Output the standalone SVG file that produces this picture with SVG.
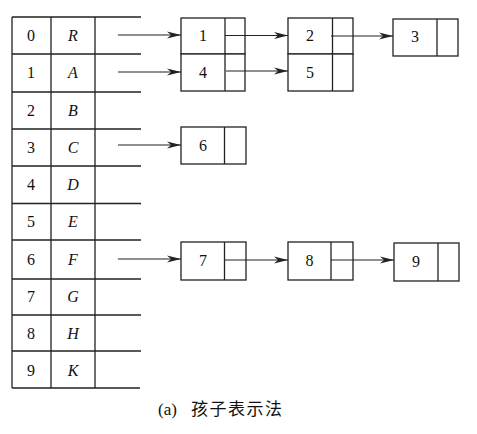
<svg xmlns="http://www.w3.org/2000/svg" width="477" height="434" viewBox="0 0 477 434">
<style>
.l{stroke:#222;stroke-width:1.3;fill:none}
.b{stroke:#222;stroke-width:1.3;fill:#fff}
.t{font-family:"Liberation Serif","Times New Roman",serif;font-size:16px;fill:#111;text-anchor:middle}
.i{font-style:italic}
.c{font-family:"Liberation Serif","Noto Sans CJK SC",serif;font-size:17px;fill:#111}
.a{stroke:#222;stroke-width:1.2;fill:none;marker-end:url(#ah)}
</style>
<defs>
<marker id="ah" markerUnits="userSpaceOnUse" markerWidth="14" markerHeight="8" refX="14" refY="4" orient="auto">
<path d="M0,0.5 L14,4 L0,7.5 L4,4 Z" fill="#222"/>
</marker>
</defs>
<g id="table">
<path class="l" d="M12,17 V388 M51,17 V388 M95,17 V388"/>
<path class="l" d="M12,17 H141 M12,54 H141 M12,92 H141 M12,129 H141 M12,166 H141 M12,203.5 H141 M12,240 H141 M12,279 H141 M12,315 H141 M12,351 H141 M12,388 H140"/>
<g class="t">
<text x="31" y="41">0</text><text x="31" y="78">1</text><text x="31" y="116">2</text><text x="31" y="153">3</text><text x="31" y="190">4</text><text x="31" y="227">5</text><text x="31" y="265">6</text><text x="31" y="302">7</text><text x="31" y="339">8</text><text x="31" y="376">9</text>
</g>
<g class="t i">
<text x="73" y="41">R</text><text x="73" y="78">A</text><text x="73" y="116">B</text><text x="73" y="153">C</text><text x="73" y="190">D</text><text x="73" y="227">E</text><text x="73" y="265">F</text><text x="73" y="302">G</text><text x="73" y="339">H</text><text x="73" y="376">K</text>
</g>
</g>
<g id="n1"><rect class="b" x="181" y="18" width="64" height="36"/><path class="l" d="M225,18 V54"/><text class="t" x="203" y="41">1</text></g>
<g id="n4"><rect class="b" x="181" y="54" width="64" height="37"/><path class="l" d="M225,54 V91"/><text class="t" x="203" y="78">4</text></g>
<g id="n2"><rect class="b" x="288" y="18" width="65" height="36"/><path class="l" d="M332.5,18 V54"/><text class="t" x="310" y="41">2</text></g>
<g id="n5"><rect class="b" x="288" y="54" width="65" height="37"/><path class="l" d="M332.5,54 V91"/><text class="t" x="310" y="78">5</text></g>
<g id="n3"><rect class="b" x="393" y="19" width="65" height="37"/><path class="l" d="M437,19 V56"/><text class="t" x="415" y="42">3</text></g>
<g id="n6"><rect class="b" x="181" y="127" width="65" height="37"/><path class="l" d="M224.5,127 V164"/><text class="t" x="203" y="151">6</text></g>
<g id="n7"><rect class="b" x="181" y="242" width="65" height="38"/><path class="l" d="M224.5,242 V280"/><text class="t" x="203" y="266">7</text></g>
<g id="n8"><rect class="b" x="288" y="242" width="65" height="38"/><path class="l" d="M331,242 V280"/><text class="t" x="309.5" y="266">8</text></g>
<g id="n9"><rect class="b" x="394" y="243" width="65" height="38"/><path class="l" d="M438,243 V281"/><text class="t" x="416" y="267">9</text></g>
<g id="connectors">
<path class="a" d="M118,35 H181"/>
<path class="a" d="M118,72 H181"/>
<path class="a" d="M118,145 H181"/>
<path class="a" d="M118,259 H181"/>
<path class="a" d="M225,35.5 H288"/>
<path class="a" d="M226,71 H288"/>
<path class="a" d="M331,36 H393"/>
<path class="a" d="M224.5,260 H288"/>
<path class="a" d="M331,260 H394"/>
</g>
<text class="c" x="158" y="415">(a)<tspan x="191" letter-spacing="1.5">孩子表示法</tspan></text>
</svg>
